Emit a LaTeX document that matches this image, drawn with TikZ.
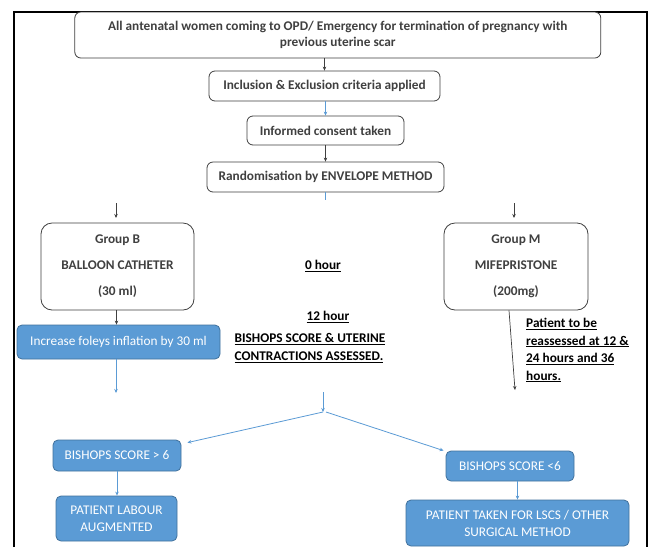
\documentclass[tikz,border=0pt]{standalone}
\usepackage{fontspec}
\setmainfont{Carlito}
\usetikzlibrary{arrows.meta,calc}
\definecolor{bfill}{HTML}{5B9BD5}
\definecolor{bdraw}{HTML}{41719C}
\definecolor{dgray}{HTML}{404040}
\begin{document}
\begin{tikzpicture}[x=1pt,y=-1pt,
  wbox/.style={draw=dgray,line width=0.8pt,rounded corners=6pt,fill=white,align=center,
    font=\fontsize{13.3}{16}\selectfont\bfseries,text=dgray,inner sep=0pt},
  bbox/.style={draw=bdraw,line width=0.8pt,rounded corners=5pt,fill=bfill,align=center,
    font=\fontsize{13.3}{16}\selectfont,text=white,inner sep=0pt},
  note/.style={font=\fontsize{13.3}{16}\selectfont\bfseries,text=black,inner sep=0pt},
  karr/.style={draw=dgray,line width=0.7pt,-{Stealth[length=4pt,width=3.5pt]}},
  barr/.style={draw=bfill,line width=0.8pt,-{Stealth[length=4pt,width=3.5pt]}},
  bline/.style={draw=bfill,line width=0.8pt}]
\useasboundingbox (0,0) rectangle (650,547);
\fill[white] (0,0) rectangle (650,547);
\draw[line width=1.6pt] (14,547) -- (14,12) -- (647,12) -- (647,547);

\node[wbox,minimum width=526pt,minimum height=46pt] (top) at (337.8,35)
  {All antenatal women coming to OPD/ Emergency for termination of pregnancy with\\previous uterine scar};
\node[wbox,minimum width=231pt,minimum height=30pt] (incl) at (324.5,86) {Inclusion \& Exclusion criteria applied};
\node[wbox,minimum width=157pt,minimum height=29pt] (cons) at (325.5,130.5) {Informed consent taken};
\node[wbox,minimum width=237pt,minimum height=30pt] (rand) at (325.5,177) {Randomisation by ENVELOPE METHOD};

\node[wbox,rounded corners=11pt,minimum width=153pt,minimum height=87pt] (grpB) at (117.5,266.5)
  {Group B\\[10pt]BALLOON CATHETER\\[10pt](30 ml)};
\node[wbox,rounded corners=11pt,minimum width=144pt,minimum height=87pt] (grpM) at (516,266.5)
  {Group M\\[10pt]MIFEPRISTONE\\[10pt](200mg)};

\node[bbox,minimum width=203pt,minimum height=34pt] (incr) at (118.5,342) {Increase foleys inflation by 30 ml};

\node[note] (h0) at (323,266) {\underline{0 hour}};
\node[note] (h12) at (328,317) {\underline{12 hour}};
\node[note,align=left] (bish) at (310,348) {\underline{BISHOPS SCORE \& UTERINE}\\[2pt]\underline{CONTRACTIONS ASSESSED.}};
\node[note,align=left,anchor=north west] (reas) at (526,318)
  {\underline{Patient to be}\\[1.5pt]\underline{reassessed at 12 \&}\\[1.5pt]\underline{24 hours and 36}\\[1.5pt]\underline{hours.}};

\node[bbox,minimum width=128pt,minimum height=31pt] (b6) at (117,455.5) {BISHOPS SCORE {>} 6};
\node[bbox,minimum width=121pt,minimum height=45pt] (lab) at (116.5,518.5) {PATIENT LABOUR\\[1pt]AUGMENTED};
\node[bbox,minimum width=128pt,minimum height=30pt] (b6r) at (510,466) {BISHOPS SCORE {<}6};
\node[bbox,minimum width=223pt,minimum height=46pt] (lscs) at (517.5,523) {PATIENT TAKEN FOR LSCS / OTHER\\[1pt]SURGICAL METHOD};

\coordinate (rEnd) at (325,200);
\coordinate (aBs) at (116,203);
\coordinate (aMs) at (514,203);
\coordinate (iEnd) at (116,393);
\coordinate (mEnd) at (515,390);
\coordinate (sTop) at (323,392);
\coordinate (split) at (323,412);
\coordinate (split2) at (326,412);

\draw[karr] (incl.north |- top.south) -- (incl.north);
\draw[barr] (cons.north |- incl.south) -- (cons.north);
\draw[karr] (rand.north |- cons.south) -- (rand.north);
\draw[bline] (rEnd |- rand.south) -- (rEnd);
\draw[karr] (aBs) -- ++(0,15);
\draw[karr] (aMs) -- ++(0,15);
\draw[karr] (grpB.south -| incr.north) ++(-2,0) -- ($(incr.north)+(-2,0)$);
\draw[barr] (iEnd |- incr.south) -- (iEnd);
\draw[karr] ($(grpM.south)+(-7,0)$) -- (mEnd);
\draw[barr] (sTop) -- (split);
\draw[barr] (split) -- ($(b6.north east)+(6,3)$);
\draw[barr] (split2) -- ($(b6r.north west)+(-2,0)$);
\draw[barr] (b6.south) -- (lab.north -| b6.south);
\draw[barr] (b6r.south -| lscs.north) -- (lscs.north);
\end{tikzpicture}
\end{document}
